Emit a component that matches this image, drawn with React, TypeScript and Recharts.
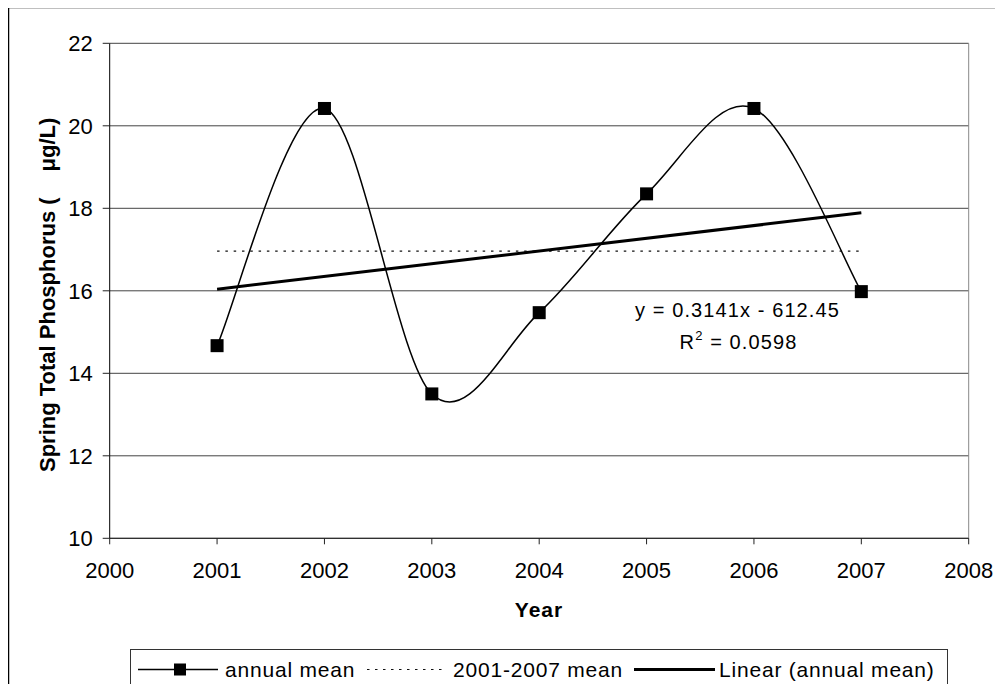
import React from 'react';
import { LineChart, Line, XAxis, YAxis, CartesianGrid, ReferenceLine, Customized } from 'recharts';

// ---------- data ----------
const years = [2001, 2002, 2003, 2004, 2005, 2006, 2007];
const annualMean = [14.67, 20.42, 13.5, 15.47, 18.35, 20.42, 15.98];
const meanYears = [2001, 2007];
const meanValues = [16.96, 16.96];
const trendYears = [2001, 2007];
const trendValues = [16.04, 17.89];
const xTicks = [2000, 2001, 2002, 2003, 2004, 2005, 2006, 2007, 2008];
const yTicks = [10, 12, 14, 16, 18, 20, 22];
const seriesNames = ['annual mean', '2001-2007 mean', 'Linear (annual mean)'];
const equationText = 'y = 0.3141x - 612.45';
const r2Value = '0.0598';
const xAxisTitle = 'Year';
const yAxisTitle = 'Spring Total Phosphorus (';
const yAxisUnit = 'μg/L)';

const annualData = years.map((year, i) => ({ year, value: annualMean[i] }));
const meanData = meanYears.map((year, i) => ({ year, value: meanValues[i] }));
const trendData = trendYears.map((year, i) => ({ year, value: trendValues[i] }));

const FONT = '"Liberation Sans", Arial, sans-serif';

// Excel-like smoothed line (uniform Catmull-Rom as cubic Bezier)
function excelSmooth(context: any) {
  let pts: number[][] = [];
  return {
    areaStart() {},
    areaEnd() {},
    lineStart() {
      pts = [];
    },
    point(x: number, y: number) {
      pts.push([+x, +y]);
    },
    lineEnd() {
      const n = pts.length;
      if (!n) return;
      context.moveTo(pts[0][0], pts[0][1]);
      for (let i = 0; i < n - 1; i++) {
        const p0 = pts[i - 1] || pts[i];
        const p1 = pts[i];
        const p2 = pts[i + 1];
        const p3 = pts[i + 2] || pts[i + 1];
        context.bezierCurveTo(
          p1[0] + (p2[0] - p0[0]) / 6,
          p1[1] + (p2[1] - p0[1]) / 6,
          p2[0] - (p3[0] - p1[0]) / 6,
          p2[1] - (p3[1] - p1[1]) / 6,
          p2[0],
          p2[1]
        );
      }
    },
  };
}

const SquareDot = (props: any) => {
  const { cx, cy, index } = props;
  if (cx == null || cy == null) return <g key={`e-${index}`} />;
  return <rect key={`sq-${index}`} x={cx - 6.5} y={cy - 6.5} width={13} height={13} fill="#000" />;
};

const Annotations = () => (
  <g fontFamily={FONT}>
    <text
      x={47}
      y={464}
      transform="rotate(-90 47 464)"
      fontSize={22}
      fontWeight="bold"
      fill="#000"
    >
      {yAxisTitle}
      <tspan dx={26}>{yAxisUnit}</tspan>
    </text>
    <text x={531} y={609.3} textAnchor="middle" fontSize={21} fontWeight="bold" letterSpacing={1} fill="#000">
      {xAxisTitle}
    </text>
    <text x={729.5} y={309.3} textAnchor="middle" fontSize={20} letterSpacing={1.1} fill="#000">
      {equationText}
    </text>
    <text x={730.5} y={341.3} textAnchor="middle" fontSize={20} letterSpacing={1.1} fill="#000">
      R
      <tspan dy={-9} fontSize={13}>2</tspan>
      <tspan dy={9}>{` = ${r2Value}`}</tspan>
    </text>
  </g>
);

export default function App() {
  const legendY = 661.5;
  const textY = 668.7;
  return (
    <div style={{ position: 'relative', width: 987, height: 684, marginBottom: -8, fontFamily: FONT }}>
      <LineChart
        width={987}
        height={684}
        margin={{ top: 35.3, right: 26.3, left: 0, bottom: 0 }}
      >
        <CartesianGrid horizontal vertical={false} stroke="#444" strokeWidth={1} />
        <XAxis
          type="number"
          dataKey="year"
          domain={[2000, 2008]}
          ticks={xTicks}
          interval={0}
          height={153.7}
          tickSize={6}
          tickMargin={18}
          axisLine={{ stroke: '#222', strokeWidth: 1 }}
          tickLine={{ stroke: '#222' }}
          tick={{ fontSize: 22, fill: '#000', fontFamily: FONT, letterSpacing: 0 }}
          allowDuplicatedCategory={false}
        />
        <YAxis
          type="number"
          domain={[10, 22]}
          ticks={yTicks}
          interval={0}
          width={101.7}
          tickSize={7}
          tickMargin={10}
          axisLine={{ stroke: '#000', strokeWidth: 1 }}
          tickLine={{ stroke: '#222' }}
          tick={{ fontSize: 22, fill: '#000', fontFamily: FONT, letterSpacing: 0 }}
        />
        <ReferenceLine x={2008} stroke="#888" strokeWidth={1} />
        <Line
          data={meanData}
          dataKey="value"
          type="linear"
          stroke="#111"
          strokeWidth={1.2}
          strokeDasharray="2.5 5.8"
          dot={false}
          activeDot={false}
          isAnimationActive={false}
          name={seriesNames[1]}
        />
        <Line
          data={trendData}
          dataKey="value"
          type="linear"
          stroke="#000"
          strokeWidth={3}
          dot={false}
          activeDot={false}
          isAnimationActive={false}
          name={seriesNames[2]}
        />
        <Line
          data={annualData}
          dataKey="value"
          type={excelSmooth as any}
          stroke="#000"
          strokeWidth={1.5}
          dot={SquareDot}
          activeDot={false}
          isAnimationActive={false}
          name={seriesNames[0]}
        />
        <Customized component={Annotations} />
      </LineChart>
      <svg
        width={987}
        height={684}
        style={{ position: 'absolute', left: 0, top: 0, pointerEvents: 'none', overflow: 'visible' }}
        fontFamily={FONT}
      >
        <line x1={0.5} y1={-0.5} x2={987} y2={-0.5} stroke="#000" strokeWidth={1.5} />
        <line x1={0.5} y1={-1} x2={0.5} y2={684} stroke="#000" strokeWidth={1.5} />
        <rect x={122.5} y={641.5} width={817} height={41} fill="#fff" stroke="#333" strokeWidth={1} />
        <line x1={130} y1={legendY} x2={210} y2={legendY} stroke="#000" strokeWidth={1.5} />
        <rect x={166} y={legendY - 6} width={12} height={12} fill="#000" />
        <text x={217} y={textY} fontSize={21} letterSpacing={0.8} fill="#000">
          {seriesNames[0]}
        </text>
        <line x1={359} y1={legendY} x2={439} y2={legendY} stroke="#111" strokeWidth={1.2} strokeDasharray="2.5 5.5" />
        <text x={445} y={textY} fontSize={21} letterSpacing={0.8} fill="#000">
          {seriesNames[1]}
        </text>
        <line x1={626} y1={legendY} x2={707} y2={legendY} stroke="#000" strokeWidth={3} />
        <text x={711} y={textY} fontSize={21} letterSpacing={0.8} fill="#000">
          {seriesNames[2]}
        </text>
      </svg>
    </div>
  );
}
